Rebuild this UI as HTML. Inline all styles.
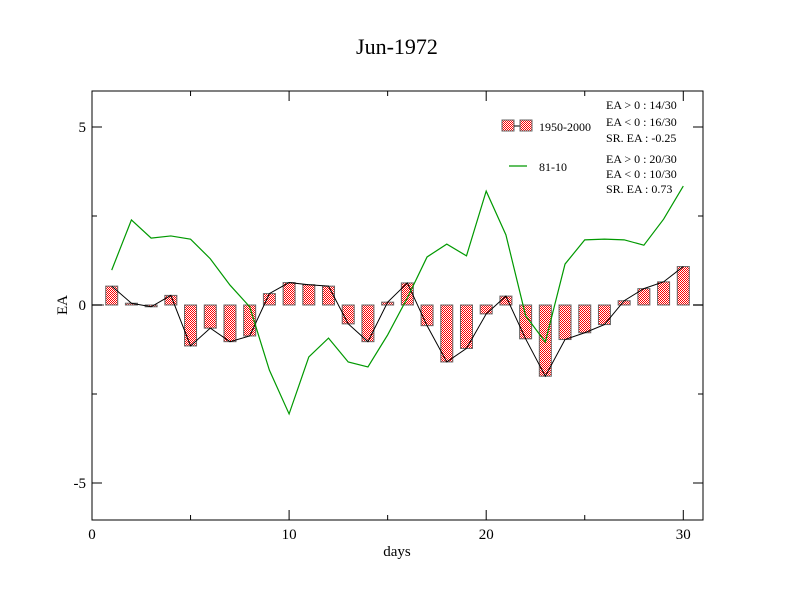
<!DOCTYPE html>
<html><head><meta charset="utf-8"><style>
body{margin:0;background:#fff}
svg{display:block;font-family:"Liberation Serif",serif}
</style></head><body>
<svg id="chart" width="792" height="612" viewBox="0 0 792 612" xmlns="http://www.w3.org/2000/svg">
<defs>
<pattern id="chk" width="2" height="2" patternUnits="userSpaceOnUse">
<rect width="2" height="2" fill="#fff"/><rect width="1" height="1" fill="#f00"/><rect x="1" y="1" width="1" height="1" fill="#f00"/>
</pattern>
</defs>
<rect width="792" height="612" fill="#fff"/>
<text x="397" y="54" font-size="22" text-anchor="middle">Jun-1972</text>
<g id="plot"></g>
<rect x="92" y="91" width="611" height="429" fill="none" stroke="#000" stroke-width="1"/>
<text x="397" y="556" font-size="15" text-anchor="middle">days</text>
<text x="67" y="305" font-size="15" text-anchor="middle" transform="rotate(-90 67 305)">EA</text>
<g font-size="12">
<rect x="502" y="120" width="12" height="11" fill="url(#chk)" stroke="#666"/>
<line x1="514" y1="126" x2="520" y2="126" stroke="#000"/>
<rect x="520" y="120" width="12" height="11" fill="url(#chk)" stroke="#666"/>
<text x="539" y="131">1950-2000</text>
<line x1="509" y1="166" x2="527" y2="166" stroke="#090" stroke-width="1.2"/>
<text x="539" y="171">81-10</text>
<text x="606" y="109">EA &gt; 0 : 14/30</text>
<text x="606" y="126">EA &lt; 0 : 16/30</text>
<text x="606" y="142">SR. EA : -0.25</text>
<text x="606" y="163">EA &gt; 0 : 20/30</text>
<text x="606" y="178">EA &lt; 0 : 10/30</text>
<text x="606" y="193">SR. EA :  0.73</text>
</g>
</svg>
<script>
const days=[1,2,3,4,5,6,7,8,9,10,11,12,13,14,15,16,17,18,19,20,21,22,23,24,25,26,27,28,29,30];
const ea1950=[0.53,0.05,-0.05,0.27,-1.15,-0.65,-1.03,-0.87,0.32,0.63,0.57,0.53,-0.53,-1.03,0.08,0.62,-0.58,-1.6,-1.22,-0.25,0.25,-0.95,-2.0,-0.97,-0.78,-0.55,0.12,0.46,0.65,1.08];
const ea8110=[0.98,2.39,1.88,1.94,1.85,1.3,0.56,-0.05,-1.83,-3.06,-1.46,-0.93,-1.6,-1.74,-0.84,0.2,1.35,1.71,1.38,3.2,1.97,-0.3,-1.04,1.15,1.83,1.85,1.83,1.68,2.41,3.34];
const xTicks=[0,10,20,30];
const yTicks=[-5,0,5];
const NS="http://www.w3.org/2000/svg";
const X=v=>92+v*(611/31);
const Y=v=>305-v*35.6;
const g=document.getElementById('plot');
function mk(t,a){const e=document.createElementNS(NS,t);for(const k in a)e.setAttribute(k,a[k]);g.appendChild(e);return e;}
// baseline stubs
let b1=mk('line',{x1:92,y1:Y(0),x2:104,y2:Y(0),stroke:'#777','stroke-width':1.5});


let b2=mk('line',{x1:X(30.5),y1:Y(0),x2:703,y2:Y(0),stroke:'#777','stroke-width':1.5});


// bars
days.forEach((d,i)=>{const v=ea1950[i];const y0=Math.min(Y(v),Y(0));const h=Math.max(Math.abs(Y(v)-Y(0)),1.5);
const r=mk('rect',{x:X(d)-6,y:y0,width:12,height:h,fill:'url(#chk)',stroke:'#666','stroke-width':1});

});
// black connecting line
const pb=mk('polyline',{points:days.map((d,i)=>X(d)+','+Y(ea1950[i])).join(' '),fill:'none',stroke:'#000','stroke-width':1});


// green line
const pg=mk('polyline',{points:days.map((d,i)=>X(d)+','+Y(ea8110[i])).join(' '),fill:'none',stroke:'#090','stroke-width':1.2});


// ticks
for(let v=0;v<=30;v+=5){const L=v%10===0?10:5;
mk('line',{x1:X(v),y1:520,x2:X(v),y2:520-L,stroke:'#000'});mk('line',{x1:X(v),y1:91,x2:X(v),y2:91+L,stroke:'#000'});}
for(let v=-5;v<=5;v+=2.5){const L=v%5===0?10:5;
mk('line',{x1:92,y1:Y(v),x2:92+L,y2:Y(v),stroke:'#000'});mk('line',{x1:703,y1:Y(v),x2:703-L,y2:Y(v),stroke:'#000'});}
xTicks.forEach(v=>{const t=mk('text',{x:X(v),y:539,'font-size':15,'text-anchor':'middle'});t.textContent=v;

});
yTicks.forEach(v=>{const t=mk('text',{x:86,y:Y(v)+5,'font-size':15,'text-anchor':'end'});t.textContent=v;

});
</script>
</body></html>
